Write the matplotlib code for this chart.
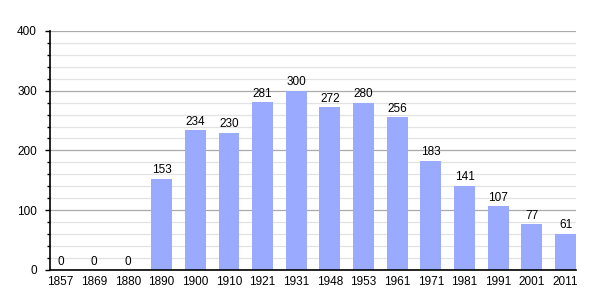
import matplotlib.pyplot as plt
from matplotlib.ticker import MultipleLocator

# Population by census year
years = ['1857', '1869', '1880', '1890', '1900', '1910', '1921', '1931',
         '1948', '1953', '1961', '1971', '1981', '1991', '2001', '2011']
population = [0, 0, 0, 153, 234, 230, 281, 300, 272, 280, 256, 183, 141, 107, 77, 61]

BAR_COLOR = '#99aaff'
FONT = 'Liberation Sans'

fig = plt.figure(figsize=(6.05, 3.0), dpi=100)
ax = fig.add_axes([0.083, 0.1, 0.869, 0.797])

x = range(len(years))
ax.bar(x, population, width=0.62, color=BAR_COLOR, zorder=3)

for xi, v in zip(x, population):
    ax.text(xi, v + 4, str(v), ha='center', va='bottom', fontsize=8.5,
            family=FONT, zorder=4)

ax.set_xlim(-0.31, len(years) - 1 + 0.31)
ax.set_ylim(0, 400)
ax.set_xticks(list(x))
ax.set_xticklabels(years, family=FONT, fontsize=8.5)
ax.yaxis.set_major_locator(MultipleLocator(100))
ax.yaxis.set_minor_locator(MultipleLocator(20))
for lbl in ax.get_yticklabels():
    lbl.set_family(FONT)
    lbl.set_fontsize(8.5)

ax.grid(axis='y', which='major', color='#aaaaaa', linewidth=0.9, zorder=1)
ax.grid(axis='y', which='minor', color='#e2e2e2', linewidth=0.9, zorder=1)
ax.tick_params(axis='x', length=0, pad=4)
ax.tick_params(axis='y', which='major', length=3.5, width=1, pad=6)
ax.tick_params(axis='y', which='minor', length=2, width=1)

for side in ('top', 'right'):
    ax.spines[side].set_visible(False)
ax.spines['left'].set_linewidth(1.2)
ax.spines['bottom'].set_linewidth(1.2)
ax.spines['left'].set_zorder(5)
ax.spines['bottom'].set_zorder(5)

fig.savefig('out.png', dpi=100)
